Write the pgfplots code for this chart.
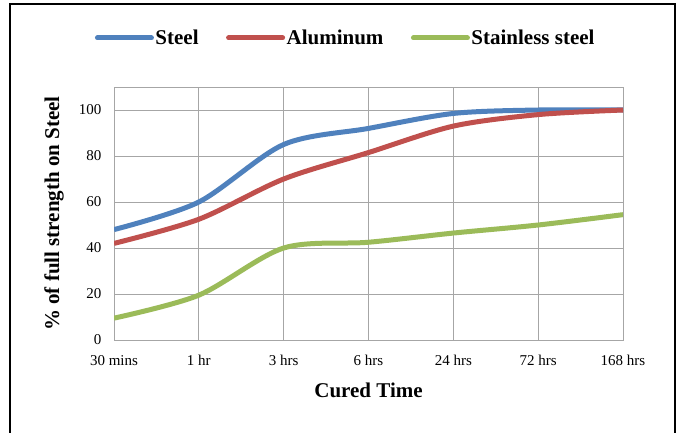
\documentclass[border=0pt]{standalone}
\usepackage{fontspec}
\setmainfont{Liberation Serif}
\usepackage{pgfplots}
\pgfplotsset{compat=1.18}

\definecolor{steelblue}{RGB}{79,129,189}
\definecolor{alured}{RGB}{192,80,77}
\definecolor{stainlessgreen}{RGB}{155,187,89}
\definecolor{gridgray}{RGB}{166,166,166}

\begin{document}
\begin{tikzpicture}[x=1pt,y=1pt]
\path[use as bounding box] (0,0) rectangle (679,432);
\draw[line width=1.5pt] (10,-5) -- (10,428) -- (675,428) -- (675,-5);

\begin{axis}[
    at={(114pt,92pt)}, anchor=south west,
    scale only axis,
    width=509pt, height=253pt,
    xmin=0, xmax=6,
    ymin=0, ymax=110,
    xtick={0,1,2,3,4,5,6},
    xticklabels={30 mins,1 hr,3 hrs,6 hrs,24 hrs,72 hrs,168 hrs},
    ytick={0,20,40,60,80,100},
    grid=major,
    major grid style={draw=gridgray, line width=1pt},
    axis line style={draw=gridgray, line width=1pt},
    major tick length=0pt,
    /pgf/number format/assume math mode=true,
    tick label style={font=\fontsize{15}{15}\selectfont},
    xticklabel style={yshift=-12pt},
    yticklabel style={xshift=-9pt},
    xlabel={Cured Time},
    ylabel={\% of full strength on Steel},
    label style={font=\bfseries\fontsize{21}{21}\selectfont},
    xlabel style={at={(axis description cs:0.5,0)}, anchor=base, yshift=-57pt},
    ylabel style={at={(axis description cs:0,0.5)}, anchor=base, yshift=55pt},
    legend columns=-1,
    legend style={
        at={(axis description cs:0.4548,1.1937)}, anchor=center,
        draw=none, fill=none,
        font=\bfseries\fontsize{21}{21}\selectfont,
        nodes={inner sep=1.5pt},
        /tikz/every even column/.append style={column sep=26pt},
    },
    legend image code/.code={\draw[#1, line width=5pt, line cap=round] (0pt,0pt) -- (54pt,0pt);},
    every axis plot/.append style={line width=5pt, line join=round, smooth},
]

\addplot[color=steelblue] coordinates {
    (0,48) (1,60) (2,85) (3,92) (4,98.5) (5,100) (6,100)
};
\addplot[color=alured] coordinates {
    (0,42) (1,52.5) (2,70) (3,81.5) (4,93) (5,98) (6,100)
};
\addplot[color=stainlessgreen] coordinates {
    (0,9.5) (1,19.5) (2,40) (3,42.5) (4,46.5) (5,50) (6,54.5)
};

\legend{Steel,Aluminum,Stainless steel}
\end{axis}
\end{tikzpicture}
\end{document}
